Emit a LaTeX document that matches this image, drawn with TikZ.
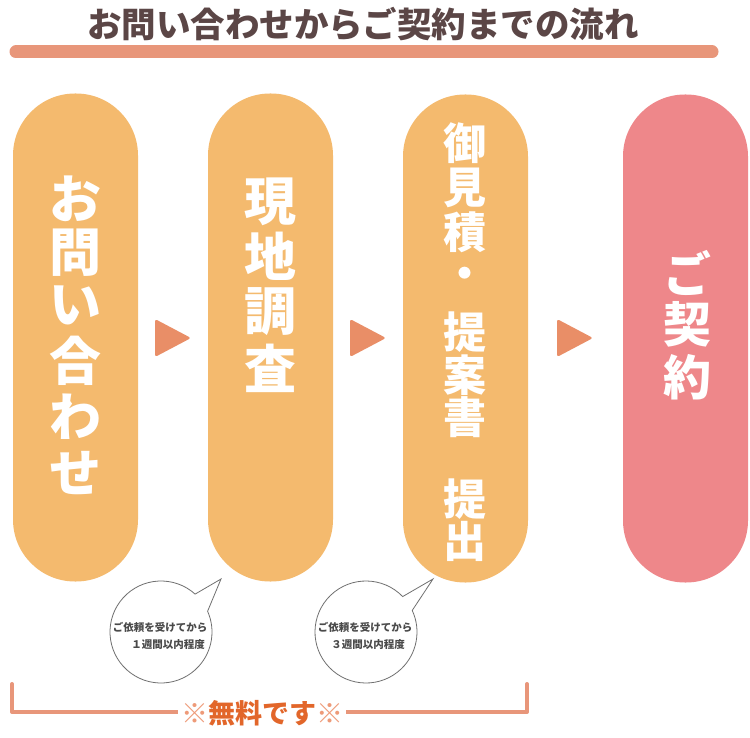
\documentclass[tikz,border=0pt]{standalone}
\usepackage{fontspec}
\setmainfont{Noto Sans CJK JP}
\usetikzlibrary{calc}
\definecolor{pillor}{HTML}{F4BA6E}
\definecolor{pillpk}{HTML}{EE878A}
\definecolor{tricol}{HTML}{E98E67}
\definecolor{barcol}{HTML}{E8967A}
\definecolor{ttlcol}{HTML}{5B4646}
\definecolor{freecol}{HTML}{E2662A}
\definecolor{kome}{HTML}{EE9A78}
\definecolor{notecol}{HTML}{4A4A4A}
\definecolor{bubcol}{HTML}{707070}
\begin{document}
\begin{tikzpicture}[x=1pt,y=-1pt,
  pill/.style={rectangle, rounded corners=62pt, minimum width=125pt, minimum height=488pt, inner sep=0pt, outer sep=0pt, fill=pillor},
  chr/.style={text=white, font=\bfseries\fontsize{52}{52}\selectfont, inner sep=0pt, anchor=center},
  chrs/.style={text=white, font=\bfseries\fontsize{43}{43}\selectfont, inner sep=0pt, anchor=center},
  tri/.style={fill=tricol, rounded corners=2.5pt},
  bubble/.style={draw=bubcol, line width=0.8pt, fill=white, line join=miter},
  bubnode/.style={circle, minimum size=102pt, inner sep=0pt, outer sep=0pt},
  note/.style={text=notecol, font=\bfseries\fontsize{10.5}{10.5}\selectfont, inner sep=0pt},
  brk/.style={draw=barcol, line width=4pt, line cap=round, line join=round}
]
\fill[white] (0,0) rectangle (750,738);
\useasboundingbox (0,0) rectangle (750,738);

% title
\node[text=ttlcol, font=\bfseries\fontsize{34.5}{34.5}\selectfont, inner sep=0pt] (title) at (363,24) {お問い合わせからご契約までの流れ};
\coordinate (barL) at (16,52);
\coordinate (barR) at (712,52);
\draw[barcol, line width=13pt, line cap=round] (barL) -- (barR);

% pills
\node[pill] (p1) at (75.5,337.5) {};
\node[pill] (p2) at (270.5,337.5) {};
\node[pill] (p3) at (465.5,338.5) {};
\node[pill, fill=pillpk] (p4) at (685.5,338.5) {};

% pill 1 text
\foreach \c/\y [count=\i] in {お/199,問/253,い/305,合/361,わ/417,せ/473}
  \node[chr] (a\i) at (75,\y) {\c};
% pill 2 text
\foreach \c/\y [count=\i] in {現/202,地/256,調/312,査/368}
  \node[chr] (b\i) at (270,\y) {\c};
% pill 3 text
\foreach \c/\y [count=\i] in {御/143,見/188,積/232,・/278,提/332,案/375,書/417,提/499,出/541}
  \node[chrs] (c\i) at (465,\y) {\c};
% pill 4 text
\foreach \c/\y [count=\i] in {ご/273,契/324,約/377}
  \node[chr, font=\bfseries\fontsize{48}{48}\selectfont] (d\i) at (687,\y) {\c};

% triangles between pills
\coordinate (t1a) at (155,319); \coordinate (t1b) at (191,338); \coordinate (t1c) at (155,357);
\coordinate (t2a) at (350,319); \coordinate (t2b) at (386,338); \coordinate (t2c) at (350,357);
\coordinate (t3a) at (557,319); \coordinate (t3b) at (593,338); \coordinate (t3c) at (557,357);
\fill[tri] (t1a) -- (t1b) -- (t1c) -- cycle;
\fill[tri] (t2a) -- (t2b) -- (t2c) -- cycle;
\fill[tri] (t3a) -- (t3b) -- (t3c) -- cycle;

% speech bubbles
\node[bubnode] (s1) at (161,632) {};
\coordinate (s1tip) at (221,579);
\draw[bubble] (s1.48) arc[start angle=48, end angle=384, radius=51pt] -- (s1tip) -- cycle;
\node[note] (s1a) at (160,627) {ご依頼を受けてから};
\node[note] (s1b) at (168,645) {１週間以内程度};

\node[bubnode] (s2) at (366,632) {};
\coordinate (s2tip) at (433,579);
\draw[bubble] (s2.44) arc[start angle=44, end angle=385, radius=51pt] -- (s2tip) -- cycle;
\node[note] (s2a) at (365,627) {ご依頼を受けてから};
\node[note] (s2b) at (368,645) {３週間以内程度};

% bracket
\coordinate (k1) at (12,684);
\coordinate (k2) at (12,712);
\coordinate (k3) at (527,712);
\coordinate (k4) at (527,684);
\draw[brk] (k1) -- (k2) -- (k3) -- (k4);
\node[fill=white, inner xsep=3pt, inner ysep=1pt, font=\bfseries\fontsize{27}{27}\selectfont] (free) at (262,713)
  {\textcolor{kome}{※}\textcolor{freecol}{無料です}\textcolor{kome}{※}};
\end{tikzpicture}
\end{document}
